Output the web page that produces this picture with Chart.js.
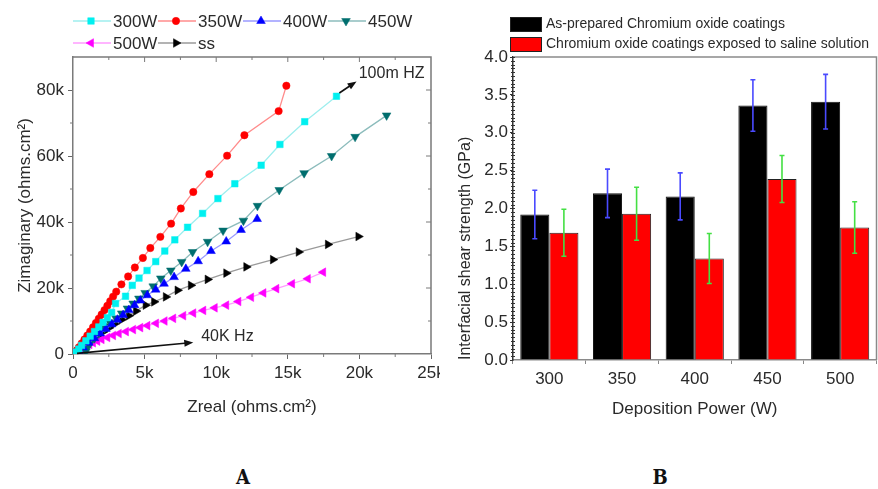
<!DOCTYPE html>
<html>
<head>
<meta charset="utf-8">
<script src="https://cdn.jsdelivr.net/npm/chart.js@4.4.0/dist/chart.umd.min.js"></script>
<style>
  html, body { margin: 0; padding: 0; background: #fff; }
  body { width: 878px; height: 489px; position: relative; overflow: hidden; }
  #wrapA { position: absolute; left: 0; top: 0; width: 440px; height: 420px; overflow: hidden; }
  #chartB { position: absolute; left: 440px; top: 0; }
  .tag { position: absolute; top: 466px; width: 40px; text-align: center; line-height: 22px;
         font-family: "DejaVu Serif Condensed", "Liberation Serif", serif; font-weight: bold; font-size: 20px; color: #111; }
</style>
</head>
<body>
<div id="wrapA"><canvas id="chartA" width="450" height="420"></canvas></div>
<canvas id="chartB" width="438" height="420"></canvas>
<div class="tag" style="left:223px">A</div>
<div class="tag" style="left:640px">B</div>
<script>
// ---- Panel A: Nyquist data (Zreal, Zimaginary in ohms.cm2) ----
const seriesNames = ['300W', '350W', '400W', '450W', '500W', 'ss'];

const zre300 = [200, 400, 600, 900, 1200, 1500, 1800, 2100, 2400, 2700, 2970, 3670, 4140, 4610, 5170, 5780, 6410, 7110, 8000, 9050, 10120, 11300, 13140, 14450, 16180, 18400];
const zim300 = [600, 1500, 2600, 4000, 5400, 6800, 8200, 9600, 11000, 12600, 15300, 17500, 20800, 23000, 25300, 28000, 31200, 34600, 38400, 42600, 47100, 51600, 57200, 63500, 70400, 78100];

const zre350 = [100, 250, 400, 600, 800, 1000, 1200, 1400, 1600, 1800, 2000, 2200, 2400, 2600, 2800, 3020, 3380, 3850, 4320, 4880, 5400, 6100, 6850, 7530, 8400, 9520, 10760, 11970, 14360, 14900];
const zim350 = [300, 1000, 2000, 3200, 4400, 5600, 6800, 8100, 9400, 10700, 12000, 13300, 14600, 16000, 17400, 18900, 21100, 23500, 26200, 29100, 32100, 35500, 39500, 44100, 49100, 54500, 60100, 66300, 73600, 81300];

const zre400 = [200, 400, 700, 1100, 1500, 1900, 2300, 2700, 3100, 3500, 3900, 4300, 4700, 5190, 5780, 6360, 7060, 7880, 8740, 9640, 10700, 11740, 12860];
const zim400 = [300, 900, 2000, 3400, 4800, 6200, 7600, 9000, 10400, 11800, 13300, 14800, 16200, 17800, 19500, 21300, 23300, 25800, 28100, 31200, 34100, 37600, 40900];

const zre450 = [900, 1000, 1200, 1500, 1800, 2200, 2600, 3000, 3400, 3800, 4200, 4600, 5040, 5600, 6130, 6830, 7590, 8350, 9400, 10480, 11900, 12880, 14400, 16140, 18060, 19700, 21900];
const zim450 = [800, 2000, 3300, 4800, 6200, 7800, 9300, 10800, 12300, 13800, 15300, 16800, 18500, 20500, 22900, 25300, 27900, 30900, 34000, 37400, 40400, 44900, 49700, 54800, 60000, 65800, 72300];

const zre500 = [200, 350, 500, 700, 900, 1150, 1400, 1700, 2000, 2400, 2800, 3200, 3700, 4200, 4700, 5200, 5800, 6400, 7000, 7700, 8400, 9100, 9900, 10700, 11550, 12440, 13300, 14200, 15300, 16400, 17470];
const zim500 = [200, 600, 1100, 1700, 2300, 2900, 3400, 3900, 4400, 5000, 5600, 6200, 6800, 7400, 8000, 8600, 9300, 10000, 10800, 11600, 12400, 13200, 14000, 14800, 15900, 17200, 18500, 19800, 21300, 22800, 24800];

const zreSS = [100, 300, 600, 900, 1300, 1700, 2100, 2500, 2900, 3400, 3900, 4400, 5070, 5660, 6480, 7300, 8230, 9400, 10700, 12100, 13960, 15760, 17800, 19930];
const zimSS = [200, 700, 1700, 2800, 4100, 5400, 6700, 7900, 9100, 10400, 11600, 13000, 14800, 15800, 17300, 19300, 20800, 22600, 24500, 26400, 28600, 30900, 33200, 35600];

const zreSets = [zre300, zre350, zre400, zre450, zre500, zreSS];
const zimSets = [zim300, zim350, zim400, zim450, zim500, zimSS];

const zreTicks = [0, 5000, 10000, 15000, 20000, 25000];
const zimTicks = [0, 20000, 40000, 60000, 80000];

// ---- Panel B: interfacial shear strength (GPa) ----
const powers = ['300', '350', '400', '450', '500'];
const asPrepared = [1.92, 2.20, 2.16, 3.36, 3.41];
const asPreparedErr = [0.32, 0.32, 0.31, 0.34, 0.36];
const exposed = [1.68, 1.93, 1.34, 2.39, 1.75];
const exposedErr = [0.31, 0.35, 0.33, 0.31, 0.34];

const FONT = '"Liberation Sans", Arial, sans-serif';
const TEXT = '#2a2a2a';

// marker looks, same order as seriesNames
const looksA = [
  { dot: '#00f0f0', line: '#9eeeee', shape: 'rect', rot: 0, r: 4.6 },
  { dot: '#ff0000', line: '#ff8c8c', shape: 'circle', rot: 0, r: 3.7 },
  { dot: '#0000ff', line: '#9a9aff', shape: 'triangle', rot: 0, r: 5 },
  { dot: '#006e6e', line: '#8cbcbc', shape: 'triangle', rot: 180, r: 5 },
  { dot: '#ff00ff', line: '#ff9cff', shape: 'triangle', rot: 270, r: 5 },
  { dot: '#000000', line: '#9a9a9a', shape: 'triangle', rot: 90, r: 5 }
];

const datasetsA = seriesNames.map((name, i) => ({
  label: name,
  data: zreSets[i].map((x, k) => ({ x: x, y: zimSets[i][k] })),
  showLine: true,
  borderColor: looksA[i].line,
  borderWidth: 1.3,
  pointStyle: looksA[i].shape,
  pointRotation: looksA[i].rot,
  pointRadius: looksA[i].r,
  pointBackgroundColor: looksA[i].dot,
  pointBorderColor: looksA[i].dot,
  pointBorderWidth: 0.5
}));

// arrows and notes on panel A, in data units
const notesA = [
  { from: [18600, 79100], to: [19800, 82600], text: '100m HZ', at: [19950, 85100] },
  { from: [280, 200], to: [8400, 3500], text: '40K Hz', at: [8950, 5300] }
];

function kLabel(v) {
  return v === 0 ? '0' : (v / 1000) + 'k';
}

const frameA = {
  id: 'frameA',
  afterDraw(chart) {
    const { ctx, chartArea: a, scales: { x, y } } = chart;
    ctx.save();
    ctx.strokeStyle = '#7a7a7a';
    ctx.lineWidth = 1.5;
    ctx.beginPath();
    ctx.moveTo(a.left, a.top);
    ctx.lineTo(a.right, a.top);
    ctx.lineTo(a.right, a.bottom);
    ctx.stroke();
    ctx.lineWidth = 1;
    ctx.beginPath();
    for (let v = 2500; v < 25000; v += 2500) {
      const px = x.getPixelForValue(v);
      const len = v % 5000 ? 3 : 5;
      ctx.moveTo(px, a.top); ctx.lineTo(px, a.top + len);
      if (v % 5000) { ctx.moveTo(px, a.bottom); ctx.lineTo(px, a.bottom + 3); }
    }
    for (let v = 10000; v < 90000; v += 10000) {
      const py = y.getPixelForValue(v);
      const len = v % 20000 ? 3 : 5;
      ctx.moveTo(a.right, py); ctx.lineTo(a.right - len, py);
      if (v % 20000) { ctx.moveTo(a.left, py); ctx.lineTo(a.left - 3, py); }
    }
    ctx.stroke();
    ctx.restore();
  }
};

const notesPluginA = {
  id: 'notesA',
  afterDatasetsDraw(chart) {
    const { ctx, scales: { x, y } } = chart;
    ctx.save();
    ctx.strokeStyle = '#111';
    ctx.fillStyle = '#111';
    ctx.lineWidth = 1.6;
    notesA.forEach(n => {
      const x0 = x.getPixelForValue(n.from[0]), y0 = y.getPixelForValue(n.from[1]);
      const x1 = x.getPixelForValue(n.to[0]), y1 = y.getPixelForValue(n.to[1]);
      const ang = Math.atan2(y1 - y0, x1 - x0);
      ctx.beginPath();
      ctx.moveTo(x0, y0);
      ctx.lineTo(x1 - 6 * Math.cos(ang), y1 - 6 * Math.sin(ang));
      ctx.stroke();
      ctx.beginPath();
      ctx.moveTo(x1, y1);
      ctx.lineTo(x1 - 9 * Math.cos(ang) + 3.5 * Math.sin(ang), y1 - 9 * Math.sin(ang) - 3.5 * Math.cos(ang));
      ctx.lineTo(x1 - 9 * Math.cos(ang) - 3.5 * Math.sin(ang), y1 - 9 * Math.sin(ang) + 3.5 * Math.cos(ang));
      ctx.closePath();
      ctx.fill();
      ctx.fillStyle = TEXT;
      ctx.font = '16px ' + FONT;
      ctx.textBaseline = 'middle';
      ctx.fillText(n.text, x.getPixelForValue(n.at[0]), y.getPixelForValue(n.at[1]));
      ctx.fillStyle = '#111';
    });
    ctx.restore();
  }
};

const legendA = {
  id: 'legendA',
  afterDraw(chart) {
    const ctx = chart.ctx;
    ctx.save();
    ctx.font = '17px ' + FONT;
    ctx.textBaseline = 'middle';
    chart.data.datasets.forEach((ds, i) => {
      const row = i < 4 ? 0 : 1;
      const col = i < 4 ? i : i - 4;
      const x0 = 73 + col * 85;
      const yy = 21 + row * 22;
      ctx.strokeStyle = ds.borderColor;
      ctx.lineWidth = 1.5;
      ctx.beginPath();
      ctx.moveTo(x0, yy);
      ctx.lineTo(x0 + 38, yy);
      ctx.stroke();
      ctx.fillStyle = ds.pointBackgroundColor;
      ctx.strokeStyle = ds.pointBorderColor;
      ctx.lineWidth = 0.5;
      Chart.helpers.drawPoint(ctx, { pointStyle: ds.pointStyle, rotation: ds.pointRotation, radius: ds.pointRadius, borderWidth: 0.5 }, x0 + 18, yy);
      ctx.fillStyle = TEXT;
      ctx.fillText(ds.label, x0 + 40, yy + 1);
    });
    ctx.restore();
  }
};

new Chart(document.getElementById('chartA'), {
  type: 'scatter',
  data: { datasets: datasetsA },
  options: {
    responsive: false,
    animation: false,
    layout: { padding: { top: 57, right: 19, left: 0, bottom: 0 } },
    plugins: { legend: { display: false }, tooltip: { enabled: false } },
    scales: {
      x: {
        type: 'linear', min: 0, max: 25000,
        afterBuildTicks(s) { s.ticks = zreTicks.map(v => ({ value: v })); },
        ticks: { callback: kLabel, color: TEXT, font: { size: 17, family: FONT }, padding: 4, maxRotation: 0 },
        grid: { drawOnChartArea: false, tickLength: 5, color: '#666' },
        border: { color: '#7a7a7a', width: 1.5 },
        title: { display: true, text: 'Zreal (ohms.cm²)', color: TEXT, font: { size: 17, family: FONT }, padding: { top: 0, bottom: 2 } },
        afterFit(s) { s.height = 66; }
      },
      y: {
        type: 'linear', min: 0, max: 90000,
        afterBuildTicks(s) { s.ticks = zimTicks.map(v => ({ value: v })); },
        ticks: { callback: kLabel, color: TEXT, font: { size: 17, family: FONT }, padding: 4 },
        grid: { drawOnChartArea: false, tickLength: 5, color: '#666' },
        border: { color: '#7a7a7a', width: 1.5 },
        title: { display: true, text: 'Zimaginary (ohms.cm²)', color: TEXT, font: { size: 17, family: FONT }, padding: { top: 15, bottom: 0 } },
        afterFit(s) { s.width = 73; }
      }
    }
  },
  plugins: [frameA, notesPluginA, legendA]
});

// ---- Panel B ----
const errColors = ['#4a4aff', '#44e044'];
const errSets = [asPreparedErr, exposedErr];

const errorBars = {
  id: 'errorBars',
  afterDatasetsDraw(chart) {
    const { ctx, scales: { y } } = chart;
    ctx.save();
    ctx.lineWidth = 1.6;
    chart.data.datasets.forEach((ds, i) => {
      const meta = chart.getDatasetMeta(i);
      ctx.strokeStyle = errColors[i];
      meta.data.forEach((bar, k) => {
        const hi = y.getPixelForValue(ds.data[k] + errSets[i][k]);
        const lo = y.getPixelForValue(ds.data[k] - errSets[i][k]);
        ctx.beginPath();
        ctx.moveTo(bar.x, hi);
        ctx.lineTo(bar.x, lo);
        ctx.moveTo(bar.x - 2.5, hi);
        ctx.lineTo(bar.x + 2.5, hi);
        ctx.moveTo(bar.x - 2.5, lo);
        ctx.lineTo(bar.x + 2.5, lo);
        ctx.stroke();
      });
    });
    ctx.restore();
  }
};

const frameB = {
  id: 'frameB',
  afterDraw(chart) {
    const { ctx, chartArea: a, scales: { y } } = chart;
    ctx.save();
    ctx.strokeStyle = '#8a8a8a';
    ctx.lineWidth = 1.5;
    ctx.beginPath();
    ctx.moveTo(a.left, a.top);
    ctx.lineTo(a.right, a.top);
    ctx.lineTo(a.right, a.bottom);
    ctx.stroke();
    ctx.strokeStyle = '#333';
    ctx.lineWidth = 1;
    ctx.beginPath();
    for (let v = 0.05; v < 4; v += 0.05) {
      const py = Math.round(y.getPixelForValue(v)) + 0.5;
      ctx.moveTo(a.left - 2, py);
      ctx.lineTo(a.left + 2, py);
    }
    ctx.stroke();
    ctx.restore();
  }
};

const legendB = {
  id: 'legendB',
  afterDraw(chart) {
    const ctx = chart.ctx;
    ctx.save();
    ctx.font = '14px ' + FONT;
    ctx.textBaseline = 'middle';
    chart.data.datasets.forEach((ds, i) => {
      const top = 17 + i * 20;
      ctx.fillStyle = ds.backgroundColor;
      ctx.fillRect(70, top, 31, 14);
      ctx.strokeStyle = '#222';
      ctx.lineWidth = 1;
      ctx.strokeRect(70.5, top + 0.5, 31, 14);
      ctx.fillStyle = TEXT;
      ctx.fillText(ds.label, 106, top + 7);
    });
    ctx.restore();
  }
};

new Chart(document.getElementById('chartB'), {
  type: 'bar',
  data: {
    labels: powers,
    datasets: [
      { label: 'As-prepared Chromium oxide coatings', data: asPrepared, backgroundColor: '#000000', borderColor: '#111', borderWidth: 1 },
      { label: 'Chromium oxide coatings exposed to saline solution', data: exposed, backgroundColor: '#ff0000', borderColor: '#222', borderWidth: 1 }
    ]
  },
  options: {
    responsive: false,
    animation: false,
    categoryPercentage: 0.8,
    barPercentage: 1.0,
    layout: { padding: { top: 57, right: 1.5, left: 0, bottom: 0 } },
    plugins: { legend: { display: false }, tooltip: { enabled: false } },
    scales: {
      x: {
        ticks: { color: TEXT, font: { size: 17, family: FONT }, padding: 5 },
        grid: { drawOnChartArea: false, tickLength: 4, color: '#888' },
        border: { color: '#8a8a8a', width: 1.5 },
        title: { display: true, text: 'Deposition Power (W)', color: TEXT, font: { size: 17, family: FONT }, padding: { top: 0, bottom: 0 } },
        afterFit(s) { s.height = 60; }
      },
      y: {
        min: 0, max: 4,
        ticks: { stepSize: 0.5, callback: v => v.toFixed(1), color: TEXT, font: { size: 17, family: FONT }, padding: 2 },
        grid: { drawOnChartArea: false, tickLength: 3, color: '#333' },
        border: { color: '#333', width: 1.5 },
        title: { display: true, align: 'start', text: 'Interfacial shear strength (GPa)', color: TEXT, font: { size: 16, family: FONT }, padding: { top: 16, bottom: 0 } },
        afterFit(s) { s.width = 73; }
      }
    }
  },
  plugins: [errorBars, frameB, legendB]
});
</script>
</body>
</html>
